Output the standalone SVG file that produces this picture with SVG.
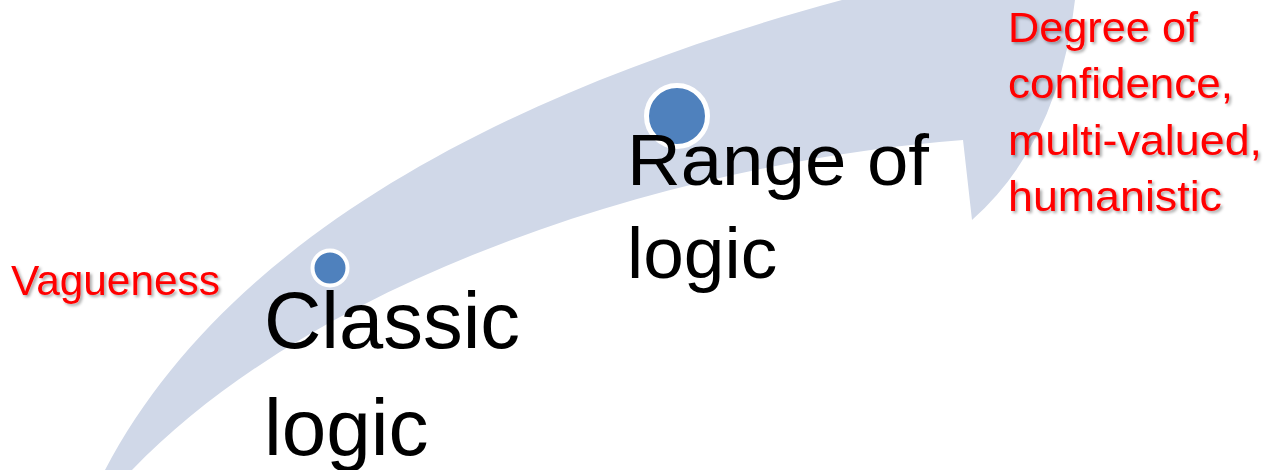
<svg xmlns="http://www.w3.org/2000/svg" width="1268" height="470" viewBox="0 0 1268 470">
<defs>
<filter id="shadow" x="-10%" y="-20%" width="130%" height="160%">
<feDropShadow dx="2" dy="2" stdDeviation="1.5" flood-color="#000000" flood-opacity="0.35"/>
</filter>
</defs>
<style>
.band{fill:#D0D8E8;}
.dot{fill:#4F81BD;stroke:#FFFFFF;}
.main{font-family:"Liberation Sans",Arial,sans-serif;fill:#000000;}
.note{font-family:"Liberation Sans",Arial,sans-serif;fill:#FF0000;font-size:43px;filter:url(#shadow);}
</style>
<rect width="1268" height="470" fill="#FFFFFF"/>
<g id="connectors">
<path class="band" d="M105,470 C230,232 520,82 880,-10 L1076,-10 Q1062,140 972,220 L963,140 C700,160 330,265 132,470 L128,476 L101,476 Z"/>
</g>
<g id="node-classic">
<circle class="dot" cx="330" cy="268" r="17.5" stroke-width="4"/>
<text class="main" font-size="80" x="264" y="348" textLength="256" lengthAdjust="spacingAndGlyphs">Classic</text>
<text class="main" font-size="80" x="264" y="455">logic</text>
</g>
<g id="node-range">
<circle class="dot" cx="677" cy="116" r="30.5" stroke-width="5"/>
<text class="main" font-size="73" x="627" y="185" textLength="302" lengthAdjust="spacingAndGlyphs">Range of</text>
<text class="main" font-size="73" x="627" y="278">logic</text>
</g>
<g id="label-vagueness">
<text class="note" x="11" y="295" textLength="209" lengthAdjust="spacingAndGlyphs">Vagueness</text>
</g>
<g id="label-degree">
<text class="note" x="1008" y="42" textLength="190" lengthAdjust="spacingAndGlyphs">Degree of</text>
<text class="note" x="1008" y="98" textLength="225" lengthAdjust="spacingAndGlyphs">confidence,</text>
<text class="note" x="1008" y="155" textLength="254" lengthAdjust="spacingAndGlyphs">multi-valued,</text>
<text class="note" x="1008" y="211" textLength="214" lengthAdjust="spacingAndGlyphs">humanistic</text>
</g>
</svg>
